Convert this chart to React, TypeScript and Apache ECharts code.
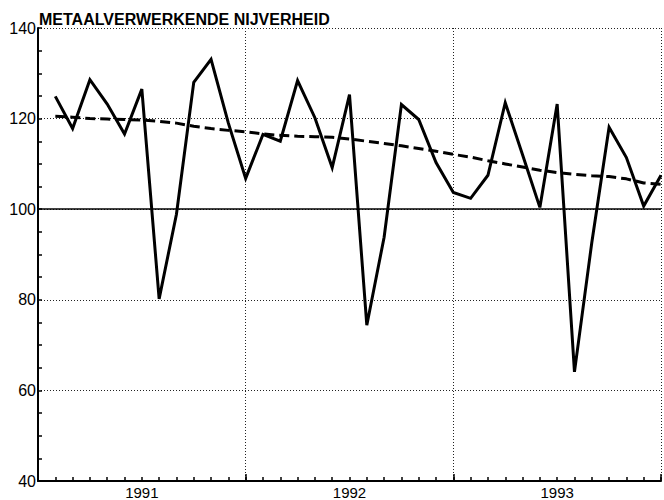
import React, { useEffect, useRef } from "react";
import * as echarts from "echarts";

const title = "METAALVERWERKENDE NIJVERHEID";
const years = ["1991", "1992", "1993"];
// monthly index, Jan 1991 .. Dec 1993
const actual = [
  124.9, 117.8, 128.6, 123.2, 116.6, 126.5, 80.2, 98.9, 128.0, 133.1, 119.0, 106.8,
  116.5, 115.0, 128.4, 120.2, 109.2, 125.3, 74.4, 93.8, 123.1, 119.8, 110.3, 103.7,
  102.4, 107.5, 123.5, 112.0, 100.4, 123.2, 64.1, 92.6, 118.1, 111.4, 100.7, 107.5,
];
const trend = [
  120.5, 120.3, 120.0, 119.9, 119.8, 119.7, 119.4, 119.0, 118.3, 117.8, 117.4, 117.1,
  116.6, 116.3, 116.1, 116.0, 115.9, 115.5, 115.0, 114.5, 114.0, 113.4, 112.8, 112.1,
  111.5, 110.7, 110.0, 109.3, 108.6, 108.1, 107.7, 107.4, 107.2, 106.7, 105.8, 105.5,
];
const yTickLabels = [40, 60, 80, 100, 120, 140];
const baseline = 100;

const FONT = '"Liberation Sans", Arial, Helvetica, sans-serif';

export default function App() {
  const ref = useRef<HTMLDivElement>(null);
  useEffect(() => {
    if (!ref.current) return;
    const chart = echarts.init(ref.current, null, { renderer: "svg" });
    const actualData = actual.map((v, i) => [i + 1, v]);
    const trendData = trend.map((v, i) => [i + 1, v]);
    chart.setOption({
      animation: false,
      backgroundColor: "#fff",
      graphic: [
        {
          type: "text",
          x: 39,
          y: 27,
          style: {
            text: title,
            fontFamily: FONT,
            fontSize: 16,
            fontWeight: "bold",
            fill: "#000",
            align: "left",
            verticalAlign: "bottom",
          },
        },
      ],
      grid: { left: 38, top: 28, right: 0, bottom: 17, containLabel: false },
      xAxis: [
        {
          type: "value",
          min: 0,
          max: 36,
          interval: 1,
          position: "bottom",
          axisLine: { show: true, lineStyle: { color: "#000", width: 2 } },
          axisTick: { show: true, inside: true, length: 4, lineStyle: { color: "#000", width: 1.5 } },
          axisLabel: {
            show: true,
            margin: 4,
            fontFamily: FONT,
            fontSize: 15,
            color: "#000",
            formatter: (v: number) => (v % 12 === 6 ? years[Math.floor(v / 12)] : ""),
          },
          splitLine: { show: false },
        },
        {
          type: "value",
          min: 0,
          max: 36,
          interval: 12,
          position: "bottom",
          axisLine: { show: false },
          axisTick: { show: true, inside: true, length: 7, lineStyle: { color: "#000", width: 1.5 } },
          axisLabel: { show: false },
          splitLine: { show: true, lineStyle: { color: "#222", width: 1, type: [1, 2] } },
        },
      ],
      yAxis: [
        {
          type: "value",
          min: 40,
          max: 140,
          interval: 5,
          axisLine: { show: true, lineStyle: { color: "#000", width: 2 } },
          axisTick: { show: true, inside: true, length: 4, lineStyle: { color: "#000", width: 1.5 } },
          axisLabel: {
            show: true,
            margin: 2,
            fontFamily: FONT,
            fontSize: 16,
            color: "#000",
            formatter: (v: number) => (yTickLabels.includes(v) ? String(v) : ""),
          },
          splitLine: { show: false },
        },
        {
          type: "value",
          min: 40,
          max: 140,
          interval: 20,
          position: "left",
          axisLine: { show: false },
          axisTick: { show: false },
          axisLabel: { show: false },
          splitLine: { show: true, lineStyle: { color: "#222", width: 1, type: [1, 2] } },
        },
      ],
      series: [
        {
          type: "line",
          xAxisIndex: 0,
          yAxisIndex: 0,
          data: trendData,
          symbol: "none",
          lineStyle: { color: "#000", width: 3, type: [10, 5] },
          markLine: {
            silent: true,
            symbol: "none",
            label: { show: false },
            lineStyle: { color: "#000", width: 1.5, type: "solid" },
            data: [{ yAxis: baseline }],
          },
        },
        {
          type: "line",
          xAxisIndex: 0,
          yAxisIndex: 0,
          data: actualData,
          symbol: "none",
          lineStyle: { color: "#000", width: 3, join: "miter" },
        },
      ],
    });
    return () => chart.dispose();
  }, []);
  return (
    <div
      ref={ref}
      style={{ position: "absolute", left: 0, top: 0, width: 664, height: 500, background: "#fff" }}
    />
  );
}
